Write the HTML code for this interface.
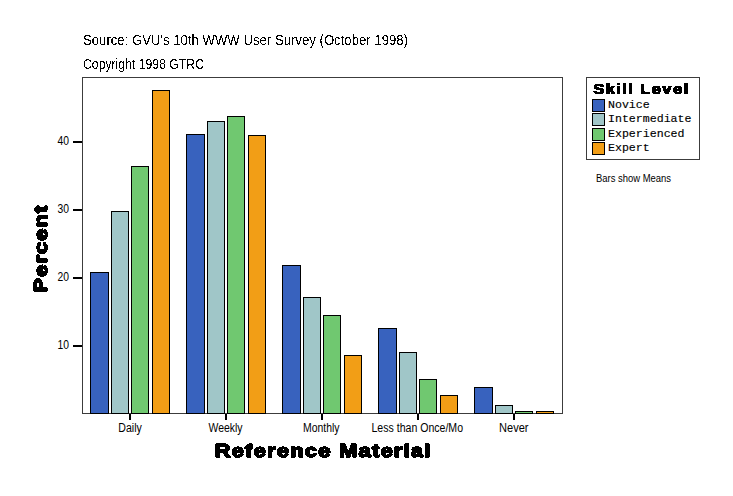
<!DOCTYPE html>
<html><head><meta charset="utf-8"><style>
html,body{margin:0;padding:0;background:#fff;}
svg{display:block;}
text{font-family:"Liberation Sans",sans-serif;fill:#000;}
.mono{font-family:"Liberation Mono",monospace;}
</style></head><body>
<svg width="733" height="496" viewBox="0 0 733 496">
<defs><filter id="al" x="-5%" y="-20%" width="110%" height="140%"><feComponentTransfer><feFuncA type="discrete" tableValues="0 1"/></feComponentTransfer></filter></defs>
<rect width="733" height="496" fill="#fff"/>
<text filter="url(#al)" x="83" y="44.6" font-size="14.5" textLength="325" lengthAdjust="spacingAndGlyphs">Source: GVU's 10th WWW User Survey (October 1998)</text>
<text filter="url(#al)" x="83" y="68.6" font-size="14.5" textLength="121" lengthAdjust="spacingAndGlyphs">Copyright 1998 GTRC</text>
<rect x="82.5" y="77.5" width="480" height="336" fill="none" stroke="#3c3c3c" stroke-width="1"/>
<rect x="90.5" y="272.5" width="18" height="141" fill="#3862BE" stroke="#000" stroke-width="1"/>
<rect x="111.5" y="211.5" width="17" height="202" fill="#A0C6C8" stroke="#000" stroke-width="1"/>
<rect x="131.5" y="166.5" width="17" height="247" fill="#70C870" stroke="#000" stroke-width="1"/>
<rect x="152.5" y="90.5" width="17" height="323" fill="#F29E16" stroke="#000" stroke-width="1"/>
<rect x="186.5" y="134.5" width="18" height="279" fill="#3862BE" stroke="#000" stroke-width="1"/>
<rect x="207.5" y="121.5" width="17" height="292" fill="#A0C6C8" stroke="#000" stroke-width="1"/>
<rect x="227.5" y="116.5" width="17" height="297" fill="#70C870" stroke="#000" stroke-width="1"/>
<rect x="248.5" y="135.5" width="17" height="278" fill="#F29E16" stroke="#000" stroke-width="1"/>
<rect x="282.5" y="265.5" width="18" height="148" fill="#3862BE" stroke="#000" stroke-width="1"/>
<rect x="303.5" y="297.5" width="17" height="116" fill="#A0C6C8" stroke="#000" stroke-width="1"/>
<rect x="323.5" y="315.5" width="17" height="98" fill="#70C870" stroke="#000" stroke-width="1"/>
<rect x="344.5" y="355.5" width="17" height="58" fill="#F29E16" stroke="#000" stroke-width="1"/>
<rect x="378.5" y="328.5" width="18" height="85" fill="#3862BE" stroke="#000" stroke-width="1"/>
<rect x="399.5" y="352.5" width="17" height="61" fill="#A0C6C8" stroke="#000" stroke-width="1"/>
<rect x="419.5" y="379.5" width="17" height="34" fill="#70C870" stroke="#000" stroke-width="1"/>
<rect x="440.5" y="395.5" width="17" height="18" fill="#F29E16" stroke="#000" stroke-width="1"/>
<rect x="474.5" y="387.5" width="18" height="26" fill="#3862BE" stroke="#000" stroke-width="1"/>
<rect x="495.5" y="405.5" width="17" height="8" fill="#A0C6C8" stroke="#000" stroke-width="1"/>
<rect x="515.5" y="411.5" width="17" height="2" fill="#70C870" stroke="#000" stroke-width="1"/>
<rect x="536.5" y="411.5" width="17" height="2" fill="#F29E16" stroke="#000" stroke-width="1"/>
<g fill="#000">
<rect x="73" y="345" width="9" height="2"/>
<rect x="73" y="277" width="9" height="2"/>
<rect x="73" y="209" width="9" height="2"/>
<rect x="73" y="141" width="9" height="2"/>
<rect x="129" y="414" width="2" height="6"/>
<rect x="225" y="414" width="2" height="6"/>
<rect x="321" y="414" width="2" height="6"/>
<rect x="417" y="414" width="2" height="6"/>
<rect x="513" y="414" width="2" height="6"/>
</g>
<g font-size="12.5">
<text x="57.6" y="349" textLength="11.5" lengthAdjust="spacingAndGlyphs">10</text>
<text x="57.6" y="281" textLength="11.5" lengthAdjust="spacingAndGlyphs">20</text>
<text x="57.6" y="213" textLength="11.5" lengthAdjust="spacingAndGlyphs">30</text>
<text x="57.6" y="145" textLength="11.5" lengthAdjust="spacingAndGlyphs">40</text>
</g>
<g font-size="12">
<text x="118.3" y="432" textLength="23.5" lengthAdjust="spacingAndGlyphs">Daily</text>
<text x="208.5" y="432" textLength="34" lengthAdjust="spacingAndGlyphs">Weekly</text>
<text x="303" y="432" textLength="36.5" lengthAdjust="spacingAndGlyphs">Monthly</text>
<text x="371.5" y="432" textLength="91.5" lengthAdjust="spacingAndGlyphs">Less than Once/Mo</text>
<text x="499" y="432" textLength="29.5" lengthAdjust="spacingAndGlyphs">Never</text>
</g>
<text filter="url(#al)" transform="translate(214.5,456.6) scale(1.22,1)" x="0" y="0" font-size="18.2" font-weight="bold" textLength="177" lengthAdjust="spacing" stroke="#000" stroke-width="1.5" stroke-linejoin="round">Reference Material</text>
<text filter="url(#al)" transform="translate(47,292.6) rotate(-90) scale(1.22,1)" x="0" y="0" font-size="18.2" font-weight="bold" textLength="71.2" lengthAdjust="spacing" stroke="#000" stroke-width="1.5" stroke-linejoin="round">Percent</text>
<rect x="586.5" y="77.5" width="113" height="82" fill="none" stroke="#3c3c3c" stroke-width="1"/>
<text filter="url(#al)" transform="translate(593.3,93.8) scale(1.2,1)" x="0" y="0" font-size="13.8" font-weight="bold" textLength="79" lengthAdjust="spacing" stroke="#000" stroke-width="1.1" stroke-linejoin="round">Skill Level</text>
<rect x="592.5" y="99.5" width="12" height="12" fill="#3862BE" stroke="#000"/>
<rect x="592.5" y="113.5" width="12" height="12" fill="#A0C6C8" stroke="#000"/>
<rect x="592.5" y="128.5" width="12" height="12" fill="#70C870" stroke="#000"/>
<rect x="592.5" y="142.5" width="12" height="12" fill="#F29E16" stroke="#000"/>
<g class="mono" font-size="11.6" stroke="#000" stroke-width="0.15">
<text class="mono" x="608" y="108">Novice</text>
<text class="mono" x="608" y="122">Intermediate</text>
<text class="mono" x="608" y="137">Experienced</text>
<text class="mono" x="608" y="151">Expert</text>
</g>
<text x="596" y="182" font-size="10" textLength="75" lengthAdjust="spacingAndGlyphs">Bars show Means</text>
</svg>
</body></html>
